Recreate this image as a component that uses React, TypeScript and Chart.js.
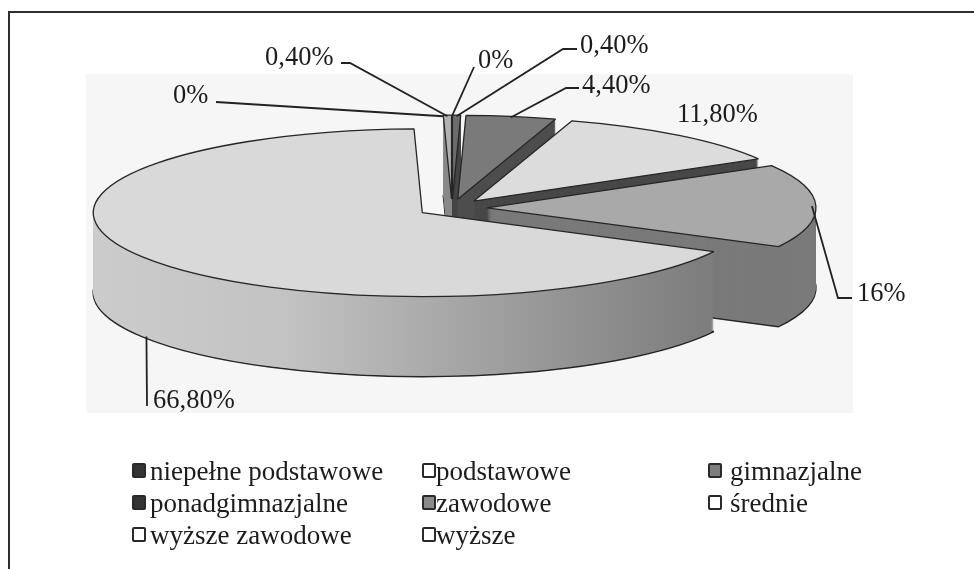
import React, { useEffect, useRef } from "react";
import { Chart, registerables } from "chart.js";

Chart.register(...registerables);

// ---------------- data ----------------
const categories = [
  "niepełne podstawowe",
  "podstawowe",
  "gimnazjalne",
  "ponadgimnazjalne",
  "zawodowe",
  "średnie",
  "wyższe zawodowe",
  "wyższe",
];
const shares = [0, 0.4, 4.4, 11.8, 16, 66.8, 0, 0.4];

// ---------------- styles ----------------
const topColors = ["#3a3a3a", "#6c6c6c", "#7a7a7a", "#dcdcdc", "#a9a9a9", "#d9d9d9", "#bdbdbd", "#b2b2b2"];
const sideColors: (string | null)[] = ["#2a2a2a", "#474747", "#4d4d4d", "#484848", "#7a7a7a", null, "#8a8a8a", "#8a8a8a"];
const legendColors = ["#333333", "#ffffff", "#7d7d7d", "#333333", "#8a8a8a", "#ffffff", "#ffffff", "#ffffff"];

const RADIUS = 329;
const SQUASH = 0.255;
const DEPTH = 80;
const EXPLODE = 35;
const FONT = '"Liberation Serif", "Times New Roman", serif';

type LabelPlace = {
  tx: number;
  ty: number;
  start?: [number, number];
  elbow?: [number, number];
  onSide?: boolean;
};
const labelPlaces: LabelPlace[] = [
  { tx: 478, ty: 68, start: [474, 67] },
  { tx: 580, ty: 53, start: [577, 49], elbow: [563, 49] },
  { tx: 582, ty: 93, start: [579, 88], elbow: [566, 88] },
  { tx: 677, ty: 122 },
  { tx: 857, ty: 301, start: [852, 298], elbow: [838, 298] },
  { tx: 153, ty: 408, start: [147, 406], onSide: true },
  { tx: 173, ty: 103, start: [216, 102] },
  { tx: 265, ty: 65, start: [341, 63], elbow: [350, 63] },
];

const legendColsX = [132, 422, 708];
const legendTextGap = [18, 14, 22];
const legendRowsY = [481, 513, 545];

const fmt = (v: number) =>
  Number.isInteger(v) ? `${v}%` : `${v.toFixed(2).replace(".", ",")}%`;

const explodedPie3D = {
  id: "explodedPie3D",
  beforeDatasetsDraw(chart: any) {
    const ctx = chart.ctx as CanvasRenderingContext2D;
    const arcs = chart.getDatasetMeta(0).data as any[];
    if (!arcs.length) return;
    const cx = arcs[0].x;
    const cy = arcs[0].y;
    const base = ctx.getTransform();
    const nativeStroke = CanvasRenderingContext2D.prototype.stroke;
    (ctx as any).stroke = function (...args: any[]) {
      this.save();
      this.setTransform(base);
      nativeStroke.apply(this, args as any);
      this.restore();
    };
    const grad = ctx.createLinearGradient(cx - RADIUS - EXPLODE, 0, cx + RADIUS * 0.85, 0);
    grad.addColorStop(0, "#cdcdcd");
    grad.addColorStop(0.35, "#c3c3c3");
    grad.addColorStop(0.6, "#a8a8a8");
    grad.addColorStop(0.85, "#8d8d8d");
    grad.addColorStop(1, "#7e7e7e");

    const drawArcAt = (arc: any, t: number, patch: any) => {
      const m = (arc.startAngle + arc.endAngle) / 2;
      ctx.save();
      ctx.translate(cx, cy + t);
      ctx.scale(1, SQUASH);
      ctx.translate(-cx, -cy);
      ctx.translate(Math.cos(m) * EXPLODE, Math.sin(m) * EXPLODE);
      const own = arc.options;
      if (patch) arc.options = { ...own, ...patch };
      arc.draw(ctx);
      arc.options = own;
      ctx.restore();
    };

    for (let t = DEPTH; t >= 1; t--) {
      arcs.forEach((arc, i) =>
        drawArcAt(arc, t, {
          backgroundColor: sideColors[i] ?? grad,
          borderWidth: t === DEPTH ? 1.5 : 0,
          borderColor: "#262626",
        })
      );
    }
    arcs.forEach((arc) => drawArcAt(arc, 0, null));
    delete (ctx as any).stroke;
    return false;
  },
  afterDraw(chart: any) {
    const ctx = chart.ctx as CanvasRenderingContext2D;
    const arcs = chart.getDatasetMeta(0).data as any[];
    if (!arcs.length) return;
    ctx.save();
    ctx.font = `26.5px ${FONT}`;
    ctx.fillStyle = "#1c1c1c";
    ctx.textAlign = "left";
    ctx.textBaseline = "alphabetic";
    ctx.strokeStyle = "#222222";
    ctx.lineWidth = 1.8;
    arcs.forEach((arc, i) => {
      const p = labelPlaces[i];
      const m = (arc.startAngle + arc.endAngle) / 2;
      const r = arc.outerRadius + EXPLODE - 4;
      const ax = arc.x + Math.cos(m) * r;
      const ay = arc.y + Math.sin(m) * r * SQUASH + (p.onSide ? DEPTH : 0);
      if (p.start) {
        ctx.beginPath();
        ctx.moveTo(p.start[0], p.start[1]);
        if (p.elbow) ctx.lineTo(p.elbow[0], p.elbow[1]);
        ctx.lineTo(ax, ay);
        ctx.stroke();
      }
      ctx.fillText(fmt(shares[i]), p.tx, p.ty);
    });
    ctx.restore();
  },
};

export default function App() {
  const canvasRef = useRef<HTMLCanvasElement | null>(null);

  useEffect(() => {
    if (!canvasRef.current) return;
    const chart = new Chart(canvasRef.current, {
      type: "pie",
      data: {
        labels: categories,
        datasets: [
          {
            data: shares,
            backgroundColor: topColors,
            borderColor: "#262626",
            borderWidth: 1.3,
            radius: RADIUS,
            clip: false,
            offset: 0,
          } as any,
        ],
      },
      options: {
        responsive: false,
        maintainAspectRatio: false,
        animation: false,
        events: [],
        radius: RADIUS,
        layout: { padding: { left: 0, top: 0, right: 70, bottom: 153 } },
        plugins: {
          legend: { display: false },
          tooltip: { enabled: false },
        },
      } as any,
      plugins: [explodedPie3D],
    });
    return () => chart.destroy();
  }, []);

  return (
    <div
      style={{
        position: "fixed",
        left: 0,
        top: 0,
        width: 974,
        height: 569,
        background: "#ffffff",
        overflow: "hidden",
        fontFamily: FONT,
      }}
    >
      <div
        style={{
          position: "absolute",
          left: 8,
          top: 11,
          width: 980,
          height: 580,
          borderTop: "2px solid #2e2e2e",
          borderLeft: "2px solid #2e2e2e",
        }}
      />
      <div
        style={{
          position: "absolute",
          left: 86,
          top: 74,
          width: 767,
          height: 339,
          background: "#f6f6f6",
        }}
      />
      <canvas
        ref={canvasRef}
        width={974}
        height={569}
        style={{ position: "absolute", left: 0, top: 0, display: "block" }}
      />
      {categories.map((name, i) => {
        const col = i % 3;
        const row = Math.floor(i / 3);
        const x = legendColsX[col];
        const base = legendRowsY[row];
        return (
          <React.Fragment key={name}>
            <div
              style={{
                position: "absolute",
                left: x,
                top: base - 18,
                width: 14,
                height: 15,
                boxSizing: "border-box",
                border: "2px solid #2a2a2a",
                borderRadius: 2,
                background: legendColors[i],
              }}
            />
            <span
              style={{
                position: "absolute",
                left: x + legendTextGap[col],
                top: base - 22.6,
                fontSize: 27,
                lineHeight: "27px",
                color: "#1c1c1c",
                whiteSpace: "nowrap",
              }}
            >
              {name}
            </span>
          </React.Fragment>
        );
      })}
    </div>
  );
}
